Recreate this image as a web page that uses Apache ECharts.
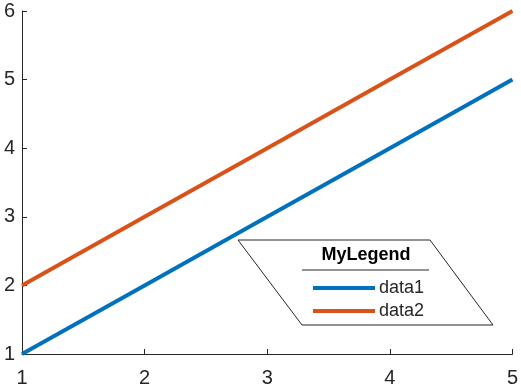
<!DOCTYPE html>
<html><head><meta charset="utf-8">
<script src="https://cdn.jsdelivr.net/npm/echarts@6/dist/echarts.min.js"></script>
<style>html,body{margin:0;padding:0;background:#fff}#c{width:521px;height:388px}</style>
</head><body><div id="c"></div>
<script>
const xValues = [1, 2, 3, 4, 5];
const data1 = [1, 2, 3, 4, 5];
const data2 = [2, 3, 4, 5, 6];
const seriesNames = ['data1', 'data2'];
const legendTitle = 'MyLegend';

const font = '"Liberation Sans", Arial, Helvetica, sans-serif';
const axisColor = '#262626';
const chart = echarts.init(document.getElementById('c'));
chart.setOption({
  animation: false,
  backgroundColor: '#fff',
  grid: {left: 22, right: 8, top: 11, bottom: 33, containLabel: false},
  xAxis: {
    type: 'value', min: 1, max: 5, interval: 1,
    axisLine: {show: true, onZero: false, lineStyle: {color: axisColor, width: 1}},
    axisTick: {show: true, inside: true, length: 5, lineStyle: {color: axisColor}},
    axisLabel: {color: axisColor, fontSize: 20, fontFamily: font, margin: 14},
    splitLine: {show: false}
  },
  yAxis: {
    type: 'value', min: 1, max: 6, interval: 1,
    axisLine: {show: true, onZero: false, lineStyle: {color: axisColor, width: 1}},
    axisTick: {show: true, inside: true, length: 5, lineStyle: {color: axisColor}},
    axisLabel: {color: axisColor, fontSize: 20, fontFamily: font, margin: 7},
    splitLine: {show: false}
  },
  legend: {
    orient: 'vertical', left: 308, top: 274,
    icon: 'rect', itemWidth: 62, itemHeight: 4, itemGap: 5,
    textStyle: {fontSize: 18, fontFamily: font, color: axisColor, padding: [0, 0, 0, -1]},
    data: seriesNames, z: 20
  },
  graphic: [
    {type: 'polygon', z: 10, shape: {points: [[238, 240], [430, 240], [493, 325], [302, 325]]},
     style: {fill: '#fff', stroke: '#262626', lineWidth: 1}},
    {type: 'text', z: 11, x: 366, y: 255, style: {text: legendTitle, fontWeight: 'bold', fontSize: 18, fontFamily: font, fill: '#000', align: 'center', verticalAlign: 'middle'}},
    {type: 'line', z: 11, shape: {x1: 302, y1: 270, x2: 429, y2: 270}, style: {stroke: '#262626', lineWidth: 1}}
  ],
  series: [
    {name: seriesNames[0], type: 'line', data: xValues.map((x, i) => [x, data1[i]]), symbol: 'none', lineStyle: {width: 4, color: '#0072BD'}, itemStyle: {color: '#0072BD'}},
    {name: seriesNames[1], type: 'line', data: xValues.map((x, i) => [x, data2[i]]), symbol: 'none', lineStyle: {width: 4, color: '#D95319'}, itemStyle: {color: '#D95319'}}
  ]
});
</script></body></html>
